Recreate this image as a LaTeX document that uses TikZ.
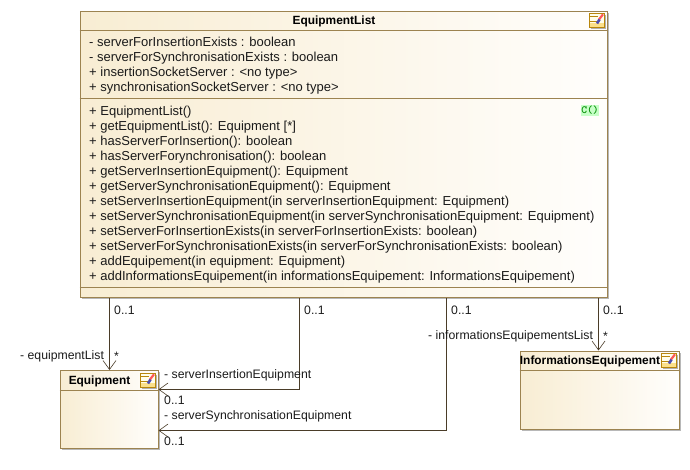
\documentclass[tikz,border=0pt]{standalone}
\usepackage{fontspec}
\setmainfont{Liberation Sans}
\usetikzlibrary{arrows.meta,shadows}
\definecolor{umlborder}{HTML}{9C8350}
\definecolor{umlleft}{HTML}{F8EDD3}
\definecolor{umlright}{HTML}{FFFEFC}
\definecolor{umlline}{HTML}{4A3C28}
\definecolor{txt}{HTML}{1A1A1A}
\definecolor{icongold}{HTML}{B8860B}
\definecolor{iconyellow}{HTML}{FBE08A}
\tikzset{
  umlbox/.style={draw=umlborder,line width=1pt,left color=umlleft,right color=umlright,
    shading angle=90,rectangle,inner sep=0pt,anchor=north west,
    drop shadow={shadow xshift=1.6pt,shadow yshift=-1.6pt,fill=black!28,opacity=1}},
  sepline/.style={draw=umlborder,line width=1pt},
  classname/.style={font=\fontsize{11.9}{14}\selectfont\bfseries,text=black,inner sep=0pt},
  body/.style={font=\fontsize{13}{15.05}\selectfont,text=txt,align=left,anchor=north west,inner sep=0pt},
  lbl/.style={font=\fontsize{12.25}{14}\selectfont,text=txt,inner sep=0pt},
  assoc/.style={draw=umlline,line width=1pt,-{Straight Barb[length=9pt,width=13pt,line width=.6pt]}},
  badge/.style={fill=green!22,text=green!55!black,font=\fontsize{11}{11}\ttfamily\bfseries,inner sep=0pt,minimum width=16pt,minimum height=11pt}
}
\newcommand{\umlicon}[2]{%
  \begin{scope}[shift={(#1,#2)}]
    \fill[black!30] (1.5,1.5) rectangle (16,15.5);
    \fill[white!92!yellow] (0,0) rectangle (14.5,13.5);
    \fill[iconyellow] (0,9.5) rectangle (14.5,13.5);
    \draw[icongold,line width=1pt] (0,0) rectangle (14.5,13.5);
    \draw[icongold,line width=.9pt] (0,3) -- (8,3) (0,8) -- (7,8);
    \draw[red!65,line width=2.2pt] (13.5,.8) -- (9.5,6);
    \draw[blue!40!gray,line width=2.6pt] (10,6) -- (7.5,10);
  \end{scope}}
\begin{document}
\begin{tikzpicture}[x=1pt,y=-1pt]
\useasboundingbox (0,0) rectangle (690,469);
% main class
\node[umlbox,minimum width=527pt,minimum height=286.5pt] (main) at (79.5,10.5) {};
\draw[sepline] (79.5,30.5) -- (606.5,30.5);
\draw[sepline] (79.5,98.5) -- (606.5,98.5);
\draw[sepline] (79.5,287.5) -- (606.5,287.5);
\node[classname] (mainname) at (334,21.5) {EquipmentList};
\umlicon{589.5}{13.5}
\node[body] (attrs) at (89,37) {- serverForInsertionExists : boolean\\
- serverForSynchronisationExists : boolean\\
+ insertionSocketServer : <no type>\\
+ synchronisationSocketServer : <no type>};
\node[body] (ops) at (89,105.5) {+ EquipmentList()\\
+ getEquipmentList(): Equipment [*]\\
+ hasServerForInsertion(): boolean\\
+ hasServerForynchronisation(): boolean\\
+ getServerInsertionEquipment(): Equipment\\
+ getServerSynchronisationEquipment(): Equipment\\
+ setServerInsertionEquipment(in serverInsertionEquipment: Equipment)\\
+ setServerSynchronisationEquipment(in serverSynchronisationEquipment: Equipment)\\
+ setServerForInsertionExists(in serverForInsertionExists: boolean)\\
+ setServerForSynchronisationExists(in serverForSynchronisationExists: boolean)\\
+ addEquipement(in equipment: Equipment)\\
+ addInformationsEquipement(in informationsEquipement: InformationsEquipement)};
\node[badge] (ctor) at (590,110.5) {C()};
% Equipment
\node[umlbox,minimum width=98pt,minimum height=78pt] (eq) at (59.5,370) {};
\draw[sepline] (59.5,390.5) -- (157.5,390.5);
\node[classname] (eqname) at (99.5,381) {Equipment};
\umlicon{140.5}{373.5}
% InformationsEquipement
\node[umlbox,minimum width=159pt,minimum height=78pt] (info) at (519.5,350.5) {};
\draw[sepline] (519.5,370.5) -- (678.5,370.5);
\node[classname] (infoname) at (590,361) {InformationsEquipement};
\umlicon{661.5}{353.5}
% connectors
\coordinate (s1) at (109.5,298);
\coordinate (s2) at (299.5,298);
\coordinate (s3) at (446.5,298);
\coordinate (s4) at (598.5,298);
\coordinate (t2) at (158.5,389.5);
\coordinate (t3) at (158.5,430.5);
\draw[assoc] (s1) -- (s1 |- eq.north);
\draw[assoc] (s2) |- (t2);
\draw[assoc] (s3) |- (t3);
\draw[assoc] (s4) -- (s4 |- info.north);
% labels
\node[lbl,anchor=west] (l1) at (114,310.5) {0..1};
\node[lbl,anchor=west] (l2) at (304,310.5) {0..1};
\node[lbl,anchor=west] (l3) at (451,310.5) {0..1};
\node[lbl,anchor=west] (l4) at (603,310.5) {0..1};
\node[lbl,anchor=west] (l5) at (20,356) {- equipmentList};
\node[lbl,anchor=west] (l6) at (114,356) {*};
\node[lbl,anchor=west] (l7) at (164,375) {- serverInsertionEquipment};
\node[lbl,anchor=west] (l8) at (164,400.5) {0..1};
\node[lbl,anchor=west] (l9) at (164,416) {- serverSynchronisationEquipment};
\node[lbl,anchor=west] (l10) at (164,441.5) {0..1};
\node[lbl,anchor=west] (l11) at (428,336) {- informationsEquipementsList};
\node[lbl,anchor=west] (l12) at (603,336) {*};
\end{tikzpicture}
\end{document}
